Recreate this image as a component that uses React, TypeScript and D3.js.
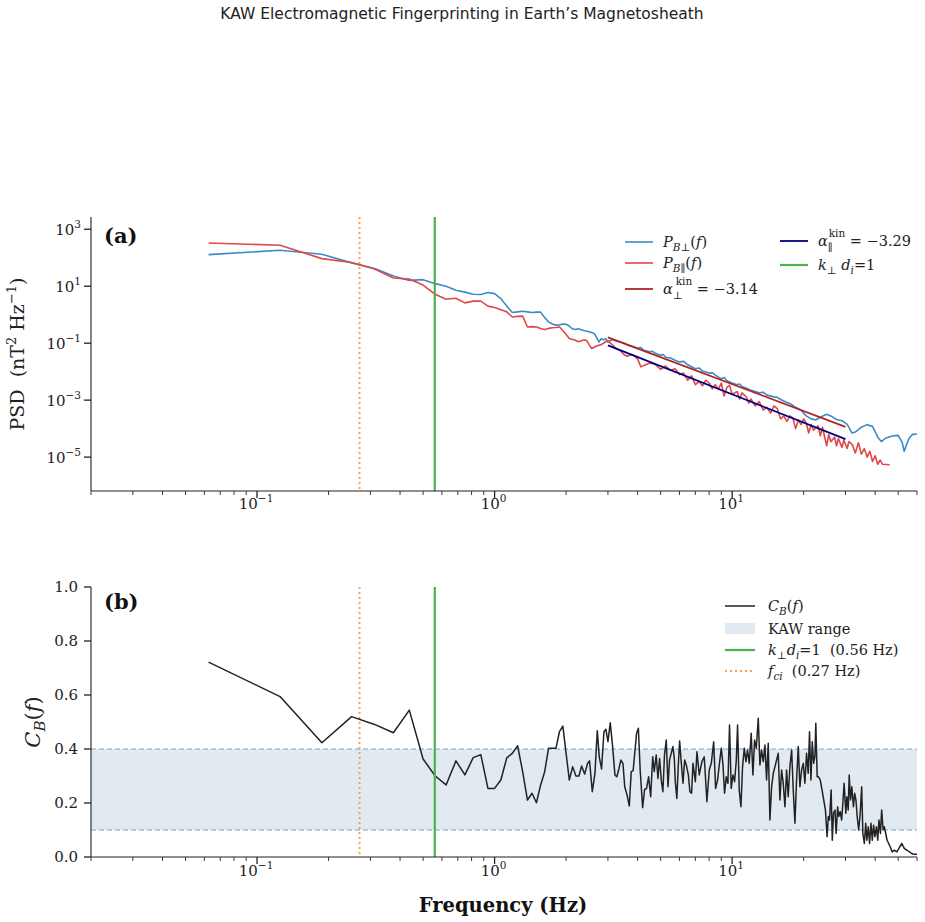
import React, { useEffect } from 'react';
import * as d3 from 'd3';

// ---- data ----
const fCi = 0.27;
const fKdi = 0.56;
const kawRange = [0.1, 0.4];

const xMajorTicks = [0.1, 1, 10];
const psdTicks = [1e3, 1e1, 1e-1, 1e-3, 1e-5];
const cohTicks = [0, 0.2, 0.4, 0.6, 0.8, 1.0];

// P_B_perp(f)  [Hz, nT^2/Hz]
const psdPerp: [number, number][] = [
  [0.0625, 129], [0.125, 182], [0.1875, 132], [0.25, 66], [0.3125, 42], [0.375, 23],
  [0.4375, 16], [0.5, 17], [0.5625, 12.3], [0.625, 10], [0.6875, 7.2], [0.75, 6.2],
  [0.8125, 5.2], [0.875, 5.1], [0.9375, 6.0], [1.0, 5.5], [1.0625, 3.7], [1.125, 2.0],
  [1.1875, 1.2], [1.25, 1.26], [1.3125, 1.32], [1.375, 1.26], [1.4375, 1.2], [1.5, 1.23],
  [1.5625, 1.23], [1.625, 0.79], [1.6875, 0.56], [1.75, 0.47], [1.8125, 0.43], [1.875, 0.44],
  [1.9375, 0.47], [2.0, 0.46], [2.0625, 0.4], [2.125, 0.32], [2.1875, 0.3], [2.25, 0.32],
  [2.375, 0.28], [2.5, 0.25], [2.625, 0.22], [2.6875, 0.16], [2.75, 0.11], [2.8125, 0.145],
  [2.875, 0.13], [2.9375, 0.145], [3.0, 0.11], [3.125, 0.135], [3.25, 0.12], [3.375, 0.11],
  [3.5, 0.102], [3.625, 0.087], [3.75, 0.079], [3.875, 0.074], [4.0, 0.066], [4.125, 0.07],
  [4.25, 0.056], [4.5, 0.05], [4.625, 0.052], [4.75, 0.044], [5.0, 0.038], [5.125, 0.04],
  [5.25, 0.032], [5.5, 0.03], [5.75, 0.025], [6.0, 0.022], [6.25, 0.023], [6.5, 0.0174],
  [7.0, 0.0126], [7.25, 0.0135], [7.5, 0.0105], [8.0, 0.0089], [8.25, 0.0092], [8.5, 0.0076],
  [9.0, 0.0056], [9.25, 0.0062], [9.5, 0.0048], [10.0, 0.004], [10.5, 0.0035], [10.75, 0.0037],
  [11.0, 0.003], [11.5, 0.0026], [12.0, 0.0022], [12.5, 0.002], [13.0, 0.0018], [13.5, 0.0019],
  [14.0, 0.0015], [15.0, 0.0013], [15.5, 0.00125], [16.0, 0.00105], [17.0, 0.00083],
  [17.5, 0.00076], [18.5, 0.00056], [19.5, 0.00044], [20.5, 0.00028], [21.5, 0.00022],
  [22.5, 0.0002], [23.5, 0.00025], [25.0, 0.00032], [26.0, 0.00028], [27.5, 0.00021],
  [29.0, 0.00019], [30.5, 0.00014], [32.0, 0.00007], [33.0, 0.000076], [35.0, 0.000112],
  [37.0, 0.000138], [39.0, 0.00012], [41.0, 0.00005], [42.5, 0.000035], [44.0, 0.000045],
  [46.0, 0.000052], [48.0, 0.000056], [50.0, 0.000058], [52.0, 0.000032], [53.0, 0.000016],
  [54.0, 0.000025], [55.6, 0.000046], [57.5, 0.000063], [60.0, 0.000065],
];

// P_B_par(f)
const psdPar: [number, number][] = [
  [0.0625, 330], [0.125, 275], [0.1875, 93], [0.25, 68], [0.3125, 40], [0.375, 19.5],
  [0.4375, 17.8], [0.5, 11], [0.5625, 5.2], [0.625, 3.5], [0.6875, 3.8], [0.75, 2.6],
  [0.8125, 3.0], [0.875, 3.0], [0.9375, 2.0], [1.0, 1.8], [1.0625, 1.5], [1.125, 1.26],
  [1.1875, 0.83], [1.25, 0.87], [1.3125, 0.89], [1.375, 0.37], [1.4375, 0.38], [1.5, 0.37],
  [1.5625, 0.33], [1.625, 0.3], [1.6875, 0.33], [1.75, 0.35], [1.8125, 0.355], [1.875, 0.37],
  [1.9375, 0.28], [2.0, 0.2], [2.0625, 0.145], [2.1875, 0.126], [2.25, 0.112], [2.375, 0.13],
  [2.4375, 0.126], [2.5, 0.089], [2.5625, 0.065], [2.6875, 0.079], [2.8125, 0.089],
  [2.9375, 0.112], [3.0, 0.12], [3.125, 0.089], [3.25, 0.065], [3.375, 0.056], [3.5, 0.04],
  [3.625, 0.035], [3.75, 0.04], [3.875, 0.036], [4.0, 0.028], [4.125, 0.0148], [4.25, 0.0166],
  [4.5, 0.02], [4.75, 0.0178], [5.0, 0.012], [5.25, 0.0158], [5.5, 0.0112], [5.75, 0.0126],
  [6.0, 0.0079], [6.25, 0.0089], [6.5, 0.005], [6.75, 0.0071], [7.0, 0.0035], [7.25, 0.0045],
  [7.5, 0.0032], [7.75, 0.005], [8.0, 0.004], [8.25, 0.0025], [8.5, 0.0035], [8.75, 0.0024],
  [9.0, 0.004], [9.25, 0.0014], [9.5, 0.0028], [9.75, 0.0033], [10.0, 0.0016], [10.5, 0.002],
  [10.75, 0.0011], [11.0, 0.0018], [11.5, 0.00126], [11.75, 0.00079], [12.0, 0.0011],
  [12.5, 0.00063], [13.0, 0.00089], [13.5, 0.00045], [14.0, 0.00056], [14.5, 0.00035],
  [15.0, 0.00063], [15.5, 0.0005], [16.0, 0.00022], [16.5, 0.00028], [17.0, 0.00018],
  [17.5, 0.00028], [18.0, 0.00024], [18.5, 0.0001], [19.0, 0.0002], [19.5, 0.00014],
  [20.0, 0.00022], [20.5, 0.00016], [21.0, 0.00007], [21.5, 0.00014], [22.0, 0.000089],
  [23.0, 0.000126], [23.5, 0.000056], [24.0, 0.000112], [25.0, 0.000025], [25.5, 0.000063],
  [26.0, 0.000035], [27.0, 0.00005], [27.5, 0.000025], [28.0, 0.000045], [29.0, 0.000022],
  [29.5, 0.00004], [30.5, 0.00002], [31.0, 0.000035], [32.0, 0.000028], [33.0, 0.000014],
  [34.0, 0.000032], [35.0, 0.0000126], [36.0, 0.00002], [37.0, 0.00001], [38.0, 0.000016],
  [39.0, 0.000007], [40.0, 0.0000112], [41.0, 0.0000056], [42.0, 0.0000079],
  [43.0, 0.0000056], [46.0, 0.0000054],
];

// kinetic-range power-law fits
const fitPerp = { alpha: -3.14, fStart: 3.0, fEnd: 30.0, ampStart: 0.16 };
const fitPar = { alpha: -3.29, fStart: 3.0, fEnd: 30.0, ampStart: 0.084 };

// C_B(f)
const coh: [number, number][] = [
  [0.0625, 0.722], [0.125, 0.594], [0.1875, 0.423], [0.25, 0.52], [0.3125, 0.491],
  [0.375, 0.46], [0.4375, 0.544], [0.5, 0.363], [0.5625, 0.3], [0.625, 0.267],
  [0.6875, 0.356], [0.75, 0.304], [0.8125, 0.368], [0.875, 0.379], [0.9375, 0.254],
  [1.0, 0.254], [1.0625, 0.285], [1.125, 0.367], [1.1875, 0.384], [1.25, 0.412],
  [1.3125, 0.316], [1.375, 0.211], [1.4375, 0.236], [1.5, 0.201], [1.5625, 0.267],
  [1.625, 0.316], [1.6875, 0.403], [1.75, 0.403], [1.8125, 0.403], [1.875, 0.464],
  [1.9375, 0.485], [2.0, 0.384], [2.063, 0.285], [2.13, 0.334], [2.2, 0.3], [2.265, 0.3],
  [2.325, 0.337], [2.393, 0.307], [2.464, 0.347], [2.51, 0.356], [2.578, 0.242],
  [2.645, 0.31], [2.706, 0.468], [2.758, 0.371], [2.82, 0.326], [2.886, 0.464],
  [2.942, 0.473], [3.0, 0.427], [3.068, 0.497], [3.14, 0.409], [3.21, 0.304], [3.27, 0.297],
  [3.34, 0.328], [3.4, 0.359], [3.47, 0.347], [3.53, 0.26], [3.61, 0.23], [3.69, 0.189],
  [3.76, 0.316], [3.83, 0.32], [3.96, 0.458], [4.03, 0.477], [4.1, 0.322], [4.2, 0.183],
  [4.28, 0.251], [4.36, 0.253], [4.45, 0.297], [4.54, 0.223], [4.63, 0.371], [4.7, 0.316],
  [4.79, 0.378], [4.87, 0.291], [4.95, 0.365], [5.03, 0.285], [5.11, 0.242], [5.19, 0.378],
  [5.28, 0.433], [5.37, 0.26], [5.45, 0.359], [5.54, 0.384], [5.63, 0.409], [5.71, 0.365],
  [5.76, 0.281], [5.85, 0.217], [5.93, 0.334], [6.01, 0.43], [6.11, 0.347], [6.21, 0.273],
  [6.31, 0.359], [6.41, 0.341], [6.54, 0.304], [6.64, 0.242], [6.75, 0.236], [6.84, 0.347],
  [7.0, 0.279], [7.11, 0.39], [7.27, 0.304], [7.46, 0.353], [7.63, 0.371], [7.83, 0.205],
  [8.01, 0.322], [8.17, 0.347], [8.36, 0.427], [8.52, 0.254], [8.68, 0.285], [8.86, 0.353],
  [9.0, 0.403], [9.15, 0.341], [9.29, 0.236], [9.45, 0.297], [9.6, 0.273], [9.75, 0.489],
  [9.91, 0.254], [10.08, 0.304], [10.24, 0.279], [10.41, 0.359], [10.54, 0.489],
  [10.71, 0.248], [10.89, 0.186], [11.06, 0.334], [11.25, 0.403], [11.43, 0.353],
  [11.61, 0.396], [11.8, 0.347], [12.03, 0.458], [12.23, 0.304], [12.43, 0.433],
  [12.64, 0.403], [12.88, 0.514], [13.09, 0.341], [13.3, 0.396], [13.52, 0.353],
  [13.74, 0.415], [13.96, 0.285], [14.19, 0.421], [14.42, 0.137], [14.66, 0.26], [14.9, 0.31],
  [15.14, 0.334], [15.38, 0.359], [15.63, 0.384], [15.89, 0.211], [16.15, 0.322],
  [16.41, 0.273], [16.68, 0.186], [16.95, 0.322], [17.22, 0.223], [17.5, 0.334], [17.8, 0.396],
  [18.08, 0.248], [18.38, 0.125], [18.67, 0.285], [18.98, 0.409], [19.29, 0.26], [19.6, 0.322],
  [19.92, 0.347], [20.24, 0.273], [20.57, 0.384], [20.9, 0.31], [21.17, 0.464], [21.46, 0.285],
  [21.74, 0.427], [22.02, 0.347], [22.3, 0.371], [22.5, 0.495], [22.8, 0.297], [23.1, 0.297],
  [23.5, 0.285], [23.9, 0.248], [24.3, 0.211], [24.7, 0.174], [25.1, 0.075], [25.4, 0.15],
  [25.7, 0.137], [26.1, 0.248], [26.4, 0.062], [26.7, 0.162], [27.1, 0.174], [27.4, 0.087],
  [27.8, 0.186], [28.1, 0.15], [28.5, 0.168], [28.9, 0.137], [29.3, 0.211], [29.6, 0.273],
  [30.1, 0.162], [30.4, 0.223], [30.8, 0.174], [31.1, 0.304], [31.5, 0.211], [31.9, 0.26],
  [32.4, 0.186], [32.8, 0.236], [33.2, 0.211], [33.6, 0.15], [34.1, 0.1], [34.6, 0.162],
  [35.1, 0.26], [35.5, 0.087], [36.0, 0.05], [36.5, 0.125], [36.9, 0.062], [37.4, 0.112],
  [37.9, 0.05], [38.4, 0.125], [38.9, 0.062], [39.4, 0.118], [39.9, 0.075], [40.5, 0.112],
  [41.0, 0.062], [41.5, 0.137], [42.1, 0.087], [42.6, 0.174], [43.2, 0.1], [43.7, 0.112],
  [44.3, 0.087], [44.9, 0.062], [45.6, 0.05], [46.3, 0.037], [47.2, 0.019], [48.1, 0.025],
  [49.4, 0.019], [50.7, 0.037], [51.8, 0.05], [53.1, 0.031], [54.5, 0.025], [55.8, 0.019],
  [57.1, 0.012], [58.4, 0.01], [60.0, 0.01],
];

// ---- colours ----
const cPerp = '#3d8bc4';
const cPar = '#e04848';
const cFitPerp = '#b22222';
const cFitPar = '#000080';
const cGreen = '#4cb04f';
const cOrange = '#f7a54a';
const cBand = '#e1e9f1';
const cBandLine = '#7aa6d2';

const serif = '"DejaVu Serif", serif';
const sans = '"DejaVu Sans", sans-serif';
const sp2 = '\u00a0\u00a0';

const W = 925;
const H = 922;
const left = 91;
const right = 917;
const aTop = 217;
const aBottom = 491;
const bTop = 587;
const bBottom = 857;

const xScale = d3.scaleLog().domain([0.02, 60]).range([left, right]);
const yPsd = d3.scaleLog().domain([Math.pow(10, -6.19), Math.pow(10, 3.43)]).range([aBottom, aTop]);
const yCoh = d3.scaleLinear().domain([0, 1]).range([bBottom, bTop]);

const minorTicks: number[] = [];
[0.01, 0.1, 1, 10].forEach((dec) => {
  for (let k = 2; k <= 9; k++) {
    const v = dec * k;
    if (v >= 0.02 && v <= 60) minorTicks.push(v);
  }
});

const fitPoints = (fit: typeof fitPerp): [number, number][] => [
  [fit.fStart, fit.ampStart],
  [fit.fEnd, fit.ampStart * Math.pow(fit.fEnd / fit.fStart, fit.alpha)],
];

const Pow10 = ({ v, x, y, anchor }: { v: number; x: number; y: number; anchor: string }) => {
  const e = Math.round(Math.log10(v));
  return (
    <text x={x} y={y} textAnchor={anchor} fontFamily={serif} fontSize={15} fill="#222">
      10<tspan dy={-7} fontSize={10.5}>{e < 0 ? '\u2212' + Math.abs(e) : String(e)}</tspan>
    </text>
  );
};

const XAxis = ({ y, labelY }: { y: number; labelY: number }) => (
  <g>
    <line x1={left} x2={right} y1={y} y2={y} stroke="#222" strokeWidth={1.1} />
    {minorTicks.map((t) => (
      <line key={t} x1={xScale(t)} x2={xScale(t)} y1={y} y2={y + 4} stroke="#222" strokeWidth={0.9} />
    ))}
    {xMajorTicks.map((t) => (
      <g key={t}>
        <line x1={xScale(t)} x2={xScale(t)} y1={y} y2={y + 7} stroke="#222" strokeWidth={1.3} />
        <Pow10 v={t} x={xScale(t) - 1} y={labelY} anchor="middle" />
      </g>
    ))}
  </g>
);

export default function App() {
  useEffect(() => {
    document.body.style.margin = '0';
  }, []);

  const psdLine = d3
    .line<[number, number]>()
    .x((d) => xScale(d[0]))
    .y((d) => yPsd(d[1]));
  const cohLine = d3
    .line<[number, number]>()
    .x((d) => xScale(d[0]))
    .y((d) => yCoh(d[1]));

  const legA1 = 625;
  const legA2 = 780;
  const legB = 725;

  return (
    <svg width={W} height={H} style={{ display: 'block', background: '#fff' }}>
      <text x={462} y={19} textAnchor="middle" fontFamily={sans} fontSize={15.5} fill="#222">
        KAW Electromagnetic Fingerprinting in Earth’s Magnetosheath
      </text>

      {/* ---------- panel (a) ---------- */}
      <g>
        <line x1={xScale(fCi)} x2={xScale(fCi)} y1={aTop} y2={aBottom} stroke={cOrange} strokeWidth={2} strokeDasharray="2,3" />
        <path d={psdLine(psdPerp) || ''} fill="none" stroke={cPerp} strokeWidth={1.6} strokeLinejoin="round" />
        <path d={psdLine(psdPar) || ''} fill="none" stroke={cPar} strokeWidth={1.6} strokeLinejoin="round" />
        <path d={psdLine(fitPoints(fitPerp)) || ''} fill="none" stroke={cFitPerp} strokeWidth={1.8} />
        <path d={psdLine(fitPoints(fitPar)) || ''} fill="none" stroke={cFitPar} strokeWidth={1.8} />
        <line x1={xScale(fKdi)} x2={xScale(fKdi)} y1={aTop} y2={aBottom} stroke={cGreen} strokeWidth={2.2} />

        <line x1={left} x2={left} y1={aTop} y2={aBottom} stroke="#222" strokeWidth={1.1} />
        {psdTicks.map((t) => (
          <g key={t}>
            <line x1={left - 7} x2={left} y1={yPsd(t)} y2={yPsd(t)} stroke="#222" strokeWidth={1.3} />
            <Pow10 v={t} x={left - 10} y={yPsd(t) + 6} anchor="end" />
          </g>
        ))}
        <XAxis y={aBottom} labelY={509} />

        <text transform={`translate(24,${(aTop + aBottom) / 2}) rotate(-90)`} textAnchor="middle" fontFamily={serif} fontSize={19} fill="#222">
          PSD{sp2}(nT<tspan dy={-8} fontSize={13}>2</tspan><tspan dy={8}> Hz</tspan><tspan dy={-8} fontSize={13}>−1</tspan><tspan dy={8}>)</tspan>
        </text>
        <text x={104} y={243} fontFamily={serif} fontWeight="bold" fontSize={21} fill="#111">(a)</text>

        {/* legend */}
        <g fontFamily={serif} fontSize={14.5} fill="#222">
          <line x1={legA1} x2={legA1 + 28} y1={242} y2={242} stroke={cPerp} strokeWidth={1.6} />
          <text x={663} y={247}>
            <tspan fontStyle="italic">P</tspan>
            <tspan dy={4} fontSize={10.5}><tspan fontStyle="italic">B</tspan>⊥</tspan>
            <tspan dy={-4}>(</tspan><tspan fontStyle="italic">f</tspan>)
          </text>
          <line x1={legA1} x2={legA1 + 28} y1={263} y2={263} stroke={cPar} strokeWidth={1.6} />
          <text x={663} y={268}>
            <tspan fontStyle="italic">P</tspan>
            <tspan dy={4} fontSize={10.5}><tspan fontStyle="italic">B</tspan>∥</tspan>
            <tspan dy={-4}>(</tspan><tspan fontStyle="italic">f</tspan>)
          </text>
          <line x1={legA1} x2={legA1 + 28} y1={289} y2={289} stroke={cFitPerp} strokeWidth={1.8} />
          <text x={663} y={294}>
            <tspan fontStyle="italic">α</tspan>
            <tspan dy={5} fontSize={10.5}>⊥</tspan>
            <tspan dy={-14} dx={-7} fontSize={10.5}>kin</tspan>
            <tspan dy={9}> = −3.14</tspan>
          </text>
          <line x1={legA2} x2={legA2 + 28} y1={241} y2={241} stroke={cFitPar} strokeWidth={1.8} />
          <text x={818} y={246}>
            <tspan fontStyle="italic">α</tspan>
            <tspan dy={5} fontSize={10.5}>∥</tspan>
            <tspan dy={-14} dx={-4} fontSize={10.5}>kin</tspan>
            <tspan dy={9}> = −3.29</tspan>
          </text>
          <line x1={legA2} x2={legA2 + 28} y1={265} y2={265} stroke={cGreen} strokeWidth={2.2} />
          <text x={818} y={270}>
            <tspan fontStyle="italic">k</tspan>
            <tspan dy={4} fontSize={10.5}>⊥</tspan>
            <tspan dy={-4} fontStyle="italic"> d</tspan>
            <tspan dy={4} fontSize={10.5} fontStyle="italic">i</tspan>
            <tspan dy={-4}>=1</tspan>
          </text>
        </g>
      </g>

      {/* ---------- panel (b) ---------- */}
      <g>
        <rect x={left} y={yCoh(kawRange[1])} width={right - left} height={yCoh(kawRange[0]) - yCoh(kawRange[1])} fill={cBand} />
        {kawRange.map((v) => (
          <line key={v} x1={left} x2={right} y1={yCoh(v)} y2={yCoh(v)} stroke={cBandLine} strokeWidth={1.2} strokeDasharray="5,3" />
        ))}
        <line x1={xScale(fCi)} x2={xScale(fCi)} y1={bTop} y2={bBottom} stroke={cOrange} strokeWidth={2} strokeDasharray="2,3" />
        <path d={cohLine(coh) || ''} fill="none" stroke="#222" strokeWidth={1.5} strokeLinejoin="round" />
        <line x1={xScale(fKdi)} x2={xScale(fKdi)} y1={bTop} y2={bBottom} stroke={cGreen} strokeWidth={2.2} />

        <line x1={left} x2={left} y1={bTop} y2={bBottom} stroke="#222" strokeWidth={1.1} />
        {cohTicks.map((t) => (
          <g key={t}>
            <line x1={left - 7} x2={left} y1={yCoh(t)} y2={yCoh(t)} stroke="#222" strokeWidth={1.3} />
            <text x={left - 13} y={yCoh(t) + 5} textAnchor="end" fontFamily={serif} fontSize={15} fill="#222">
              {t.toFixed(1)}
            </text>
          </g>
        ))}
        <XAxis y={bBottom} labelY={876} />

        <text transform={`translate(40,${(bTop + bBottom) / 2}) rotate(-90)`} textAnchor="middle" fontFamily={serif} fontSize={21} fill="#222">
          <tspan fontStyle="italic">C</tspan>
          <tspan dy={5} fontSize={15} fontStyle="italic">B</tspan>
          <tspan dy={-5}>(</tspan><tspan fontStyle="italic">f</tspan>)
        </text>
        <text x={104} y={609} fontFamily={serif} fontWeight="bold" fontSize={21} fill="#111">(b)</text>
        <text x={503} y={912} textAnchor="middle" fontFamily={serif} fontWeight="bold" fontSize={19.5} fill="#111">
          Frequency (Hz)
        </text>

        {/* legend */}
        <g fontFamily={serif} fontSize={14.5} fill="#222">
          <line x1={legB} x2={legB + 30} y1={606} y2={606} stroke="#222" strokeWidth={1.5} />
          <text x={768} y={611}>
            <tspan fontStyle="italic">C</tspan>
            <tspan dy={4} fontSize={10.5} fontStyle="italic">B</tspan>
            <tspan dy={-4}>(</tspan><tspan fontStyle="italic">f</tspan>)
          </text>
          <rect x={legB} y={623} width={30} height={11} fill={cBand} />
          <text x={768} y={634}>KAW range</text>
          <line x1={legB} x2={legB + 30} y1={650} y2={650} stroke={cGreen} strokeWidth={2.2} />
          <text x={768} y={655}>
            <tspan fontStyle="italic">k</tspan>
            <tspan dy={4} fontSize={10.5}>⊥</tspan>
            <tspan dy={-4} fontStyle="italic">d</tspan>
            <tspan dy={4} fontSize={10.5} fontStyle="italic">i</tspan>
            <tspan dy={-4}>=1{sp2}(0.56 Hz)</tspan>
          </text>
          <line x1={legB} x2={legB + 30} y1={671} y2={671} stroke={cOrange} strokeWidth={2} strokeDasharray="2,3" />
          <text x={768} y={676}>
            <tspan fontStyle="italic">f</tspan>
            <tspan dy={4} fontSize={10.5} fontStyle="italic">ci</tspan>
            <tspan dy={-4}>{sp2}(0.27 Hz)</tspan>
          </text>
        </g>
      </g>
    </svg>
  );
}
